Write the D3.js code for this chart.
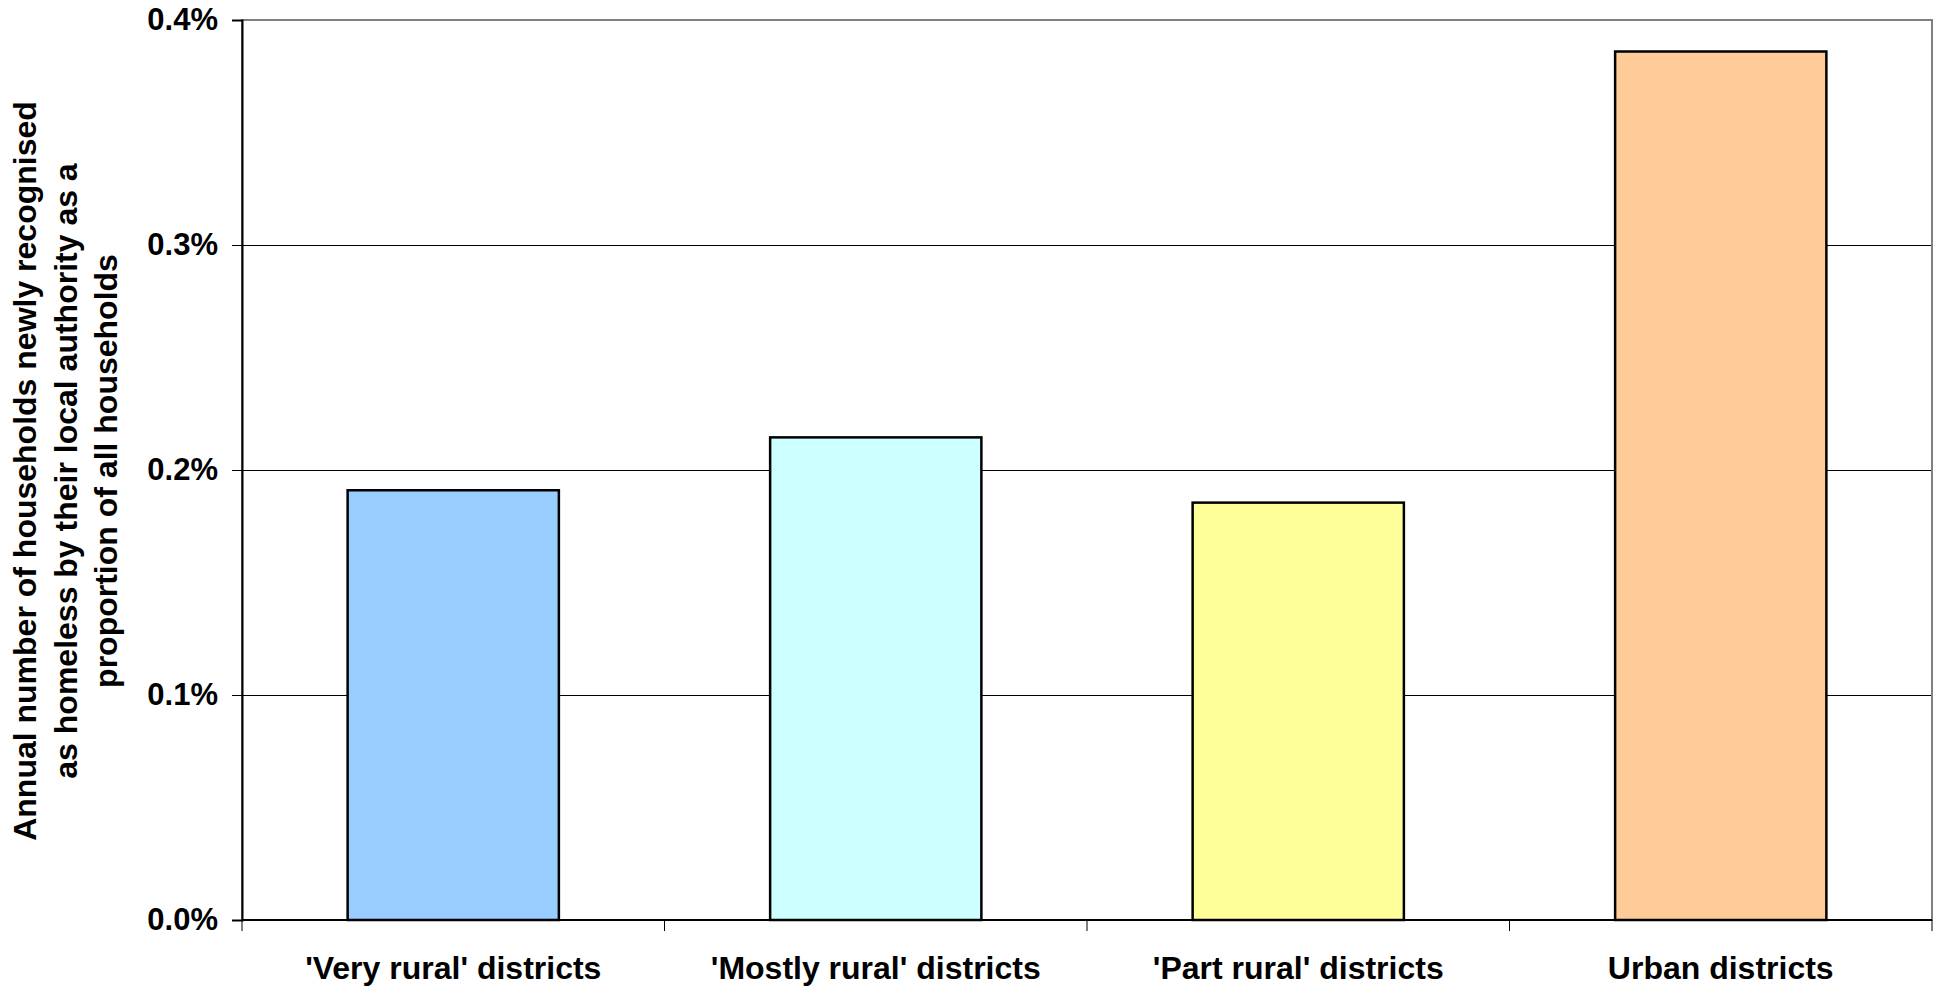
<!DOCTYPE html>
<html lang="en">

<head>
  <meta charset="UTF-8">
  <title>Homeless households by district type</title>
  <script src="https://cdn.jsdelivr.net/npm/d3@7.9.0/dist/d3.min.js"></script>
  <style>
    html,
    body {
      margin: 0;
      padding: 0;
      background: #fff;
    }

    svg {
      display: block;
      font-family: "Liberation Sans", Arial, sans-serif;
      font-weight: bold;
    }
  </style>
</head>

<body>
  <svg id="chart" width="1935" height="986"></svg>

  <script>
    // 1. Data
    const categories = ["'Very rural' districts", "'Mostly rural' districts", "'Part rural' districts", "Urban districts"];
    const values = [0.191, 0.2145, 0.1855, 0.386]; // percent of all households
    const barColors = ["#99ccff", "#ccffff", "#ffff99", "#ffcc99"];
    const yTicks = [0, 0.1, 0.2, 0.3, 0.4];
    const yTitleLines = [
      "Annual number of households newly recognised",
      "as homeless by their local authority as a",
      "proportion of all households"
    ];

    // 2. Layout
    const plot = { left: 242, right: 1932, top: 20, bottom: 920 };
    const svg = d3.select("#chart");

    const x = d3.scaleBand()
      .domain(categories)
      .range([plot.left, plot.right])
      .paddingInner(0.5)
      .paddingOuter(0.25);

    const y = d3.scaleLinear()
      .domain([0, 0.4])
      .range([plot.bottom, plot.top]);

    // 3. Gridlines + plot border
    svg.append("g")
      .selectAll("line")
      .data(yTicks.slice(1))
      .join("line")
      .attr("x1", plot.left)
      .attr("x2", plot.right)
      .attr("y1", d => Math.round(y(d)) + 0.5)
      .attr("y2", d => Math.round(y(d)) + 0.5)
      .attr("stroke", "#000")
      .attr("stroke-width", 1);

    svg.append("rect")
      .attr("x", plot.left)
      .attr("y", plot.top)
      .attr("width", plot.right - plot.left)
      .attr("height", plot.bottom - plot.top)
      .attr("fill", "none")
      .attr("stroke", "#808080")
      .attr("stroke-width", 2);

    // 4. Bars
    svg.append("g")
      .selectAll("rect")
      .data(values)
      .join("rect")
      .attr("x", (d, i) => x(categories[i]))
      .attr("y", d => y(d))
      .attr("width", x.bandwidth())
      .attr("height", d => y(0) - y(d))
      .attr("fill", (d, i) => barColors[i])
      .attr("stroke", "#000")
      .attr("stroke-width", 2.5);

    // 5. Axes
    const yAxis = d3.axisLeft(y)
      .tickValues(yTicks)
      .tickFormat(d => d.toFixed(1) + "%")
      .tickSize(10)
      .tickPadding(14);

    svg.append("g")
      .attr("transform", `translate(${plot.left},0)`)
      .call(yAxis)
      .call(g => g.select(".domain").attr("stroke", "#000").attr("stroke-width", 2))
      .call(g => g.selectAll(".tick line").attr("stroke", "#000"))
      .call(g => g.selectAll(".tick text")
        .attr("fill", "#000")
        .style("font-size", "31px")
        .style("font-family", "'Liberation Sans', Arial, sans-serif")
        .style("font-weight", "bold"));

    // x ticks sit on the category boundaries, like the original
    const xBounds = d3.range(categories.length + 1)
      .map(i => plot.left + i * (plot.right - plot.left) / categories.length);

    const xAxisG = svg.append("g");
    xAxisG.append("line")
      .attr("x1", plot.left)
      .attr("x2", plot.right)
      .attr("y1", plot.bottom)
      .attr("y2", plot.bottom)
      .attr("stroke", "#000")
      .attr("stroke-width", 2);

    xAxisG.selectAll("line.tick")
      .data(xBounds)
      .join("line")
      .attr("class", "tick")
      .attr("x1", d => d)
      .attr("x2", d => d)
      .attr("y1", plot.bottom)
      .attr("y2", plot.bottom + 11)
      .attr("stroke", "#000");

    xAxisG.selectAll("text")
      .data(categories)
      .join("text")
      .attr("x", d => x(d) + x.bandwidth() / 2)
      .attr("y", 979)
      .attr("text-anchor", "middle")
      .style("font-size", "32px")
      .text(d => d);

    // 6. Y axis title (three lines, rotated)
    svg.append("text")
      .attr("transform", "rotate(-90)")
      .attr("text-anchor", "middle")
      .style("font-size", "32px")
      .selectAll("tspan")
      .data(yTitleLines)
      .join("tspan")
      .attr("x", -471)
      .attr("y", (d, i) => 36 + i * 40.5)
      .text(d => d);
  </script>
</body>

</html>
